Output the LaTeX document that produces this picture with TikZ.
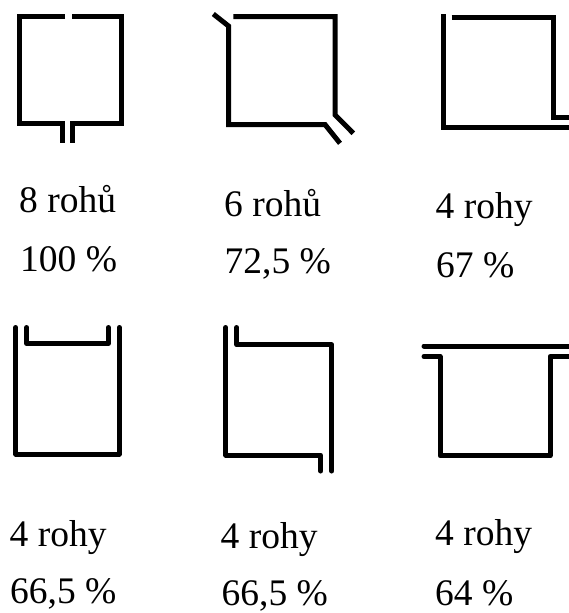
\documentclass[tikz,border=0pt]{standalone}
\usepackage{fontspec}
\setmainfont{Liberation Serif}
\begin{document}
\begin{tikzpicture}[x=1pt,y=-1pt,
  wall/.style={line width=5pt,line cap=butt,line join=miter},
  rwall/.style={line width=5pt,line cap=round,line join=round},
  lbl/.style={anchor=base west,inner sep=0pt,font=\fontsize{37.5}{40}\selectfont}]
\useasboundingbox[fill=white] (0,0) rectangle (569,613);
% shape 1
\draw[wall] (65,16.5) -- (19.2,16.5) -- (19.2,123.3) -- (62.5,123.3) -- (62.5,143.3);
\draw[wall] (72.3,16.5) -- (121.5,16.5) -- (121.5,123.3) -- (72.5,123.3) -- (72.5,143.3);
% shape 2
\draw[wall] (213.3,14) -- (228.5,26) -- (228.5,124.5) -- (325,124.5) -- (340,143.3);
\draw[wall] (233.3,16.5) -- (335.2,16.5) -- (335.2,115) -- (353.3,133.3);
% shape 3
\draw[wall] (443.5,14) -- (443.5,127) -- (571,127);
\draw[wall] (451.7,17.5) -- (553.2,17.5) -- (553.2,117.3) -- (571,117.3);
% shape 4
\draw[rwall] (15.8,327.5) -- (15.8,454) -- (119.2,454) -- (119.2,327.5);
\draw[rwall] (26.7,327.5) -- (26.7,343.3) -- (108.3,343.3) -- (108.3,327.5);
% shape 5
\draw[rwall] (225.8,327.5) -- (225.8,455) -- (320.7,455) -- (320.7,471);
\draw[rwall] (236.7,327.5) -- (236.7,344.7) -- (331.7,344.7) -- (331.7,471);
% shape 6
\draw[rwall] (424,346) -- (575,346);
\draw[rwall] (424,356.5) -- (440,356.5) -- (440,455.8) -- (550,455.8) -- (550,356.5) -- (575,356.5);
% labels
\node[lbl] (a1) at (19,212) {8 rohů};
\node[lbl] (b1) at (20,271.7) {100 \%};
\node[lbl] (a2) at (224,216.7) {6 rohů};
\node[lbl] (b2) at (224.5,273.3) {72,5 \%};
\node[lbl] (a3) at (435.5,218.3) {4 rohy};
\node[lbl] (b3) at (436,277.3) {67 \%};
\node[lbl] (a4) at (9.5,546.7) {4 rohy};
\node[lbl] (b4) at (10,603.3) {66,5 \%};
\node[lbl] (a5) at (220.5,548.3) {4 rohy};
\node[lbl] (b5) at (221.5,605) {66,5 \%};
\node[lbl] (a6) at (435,545) {4 rohy};
\node[lbl] (b6) at (435,605) {64 \%};
\end{tikzpicture}
\end{document}
